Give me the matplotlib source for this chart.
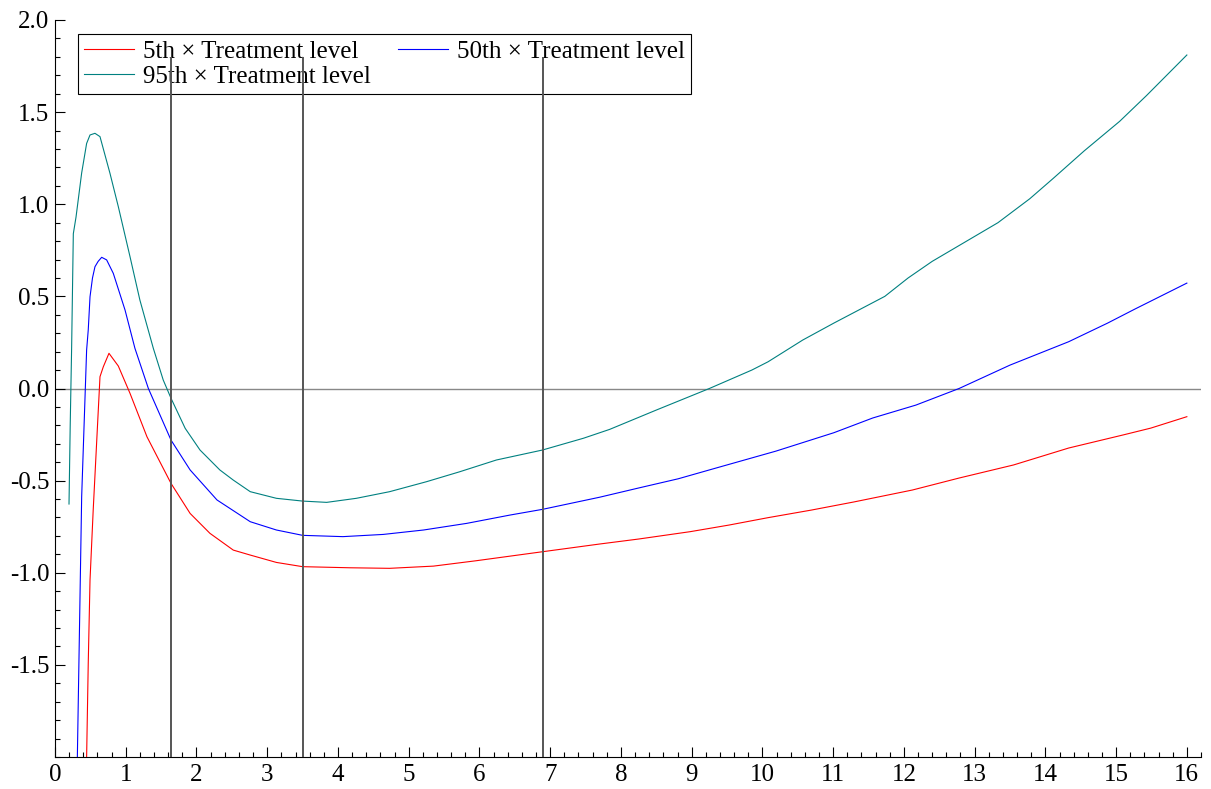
import matplotlib
matplotlib.use("Agg")
import matplotlib.pyplot as plt
from matplotlib.ticker import MultipleLocator

plt.rcParams['font.family'] = ['Liberation Serif', 'DejaVu Serif']
plt.rcParams['axes.unicode_minus'] = False

# 95th percentile curve
x95 = [0.198, 0.215, 0.235, 0.259, 0.297, 0.377, 0.447, 0.495, 0.565, 0.636, 0.777, 0.895,
       1.06, 1.20, 1.39, 1.53, 1.64, 1.84, 2.05, 2.33, 2.52, 2.76, 3.13, 3.50, 3.84, 4.26,
       4.73, 5.25, 5.72, 6.24, 6.89, 7.47, 7.84, 8.50, 9.25, 9.85, 10.08, 10.57, 11.01,
       11.73, 12.06, 12.40, 13.33, 13.78, 14.11, 14.55, 15.05, 15.43, 16.0]
y95 = [-0.627, -0.2, 0.22, 0.84, 0.93, 1.17, 1.33, 1.376, 1.385, 1.367, 1.168, 0.987,
       0.716, 0.48, 0.218, 0.046, -0.053, -0.216, -0.334, -0.442, -0.497, -0.56, -0.596,
       -0.611, -0.618, -0.596, -0.56, -0.506, -0.452, -0.388, -0.334, -0.27, -0.222,
       -0.117, 0.0, 0.10, 0.145, 0.263, 0.355, 0.50, 0.60, 0.69, 0.90, 1.03, 1.14, 1.29,
       1.45, 1.59, 1.81]

# 50th percentile curve
x50 = [0.316, 0.377, 0.447, 0.47, 0.495, 0.53, 0.565, 0.61, 0.66, 0.73, 0.824, 0.99, 1.13,
       1.32, 1.64, 1.91, 2.29, 2.76, 3.13, 3.50, 4.07, 4.64, 5.21, 5.82, 6.43, 6.89, 7.70,
       8.25, 8.81, 9.36, 10.19, 11.01, 11.56, 12.17, 12.78, 13.5, 14.33, 14.88, 15.26, 16.0]
y50 = [-2.0, -0.587, 0.209, 0.318, 0.498, 0.60, 0.661, 0.69, 0.712, 0.698, 0.625, 0.426,
       0.218, 0.0, -0.28, -0.442, -0.605, -0.723, -0.768, -0.797, -0.804, -0.792, -0.768,
       -0.732, -0.687, -0.656, -0.59, -0.54, -0.49, -0.43, -0.34, -0.24, -0.16, -0.09, 0.0,
       0.127, 0.254, 0.355, 0.43, 0.572]

# 5th percentile curve
x5 = [0.447, 0.47, 0.495, 0.54, 0.636, 0.683, 0.763, 0.895, 1.06, 1.30, 1.64, 1.91, 2.19,
      2.52, 2.76, 3.13, 3.50, 4.17, 4.73, 5.35, 5.95, 6.89, 7.70, 8.25, 8.98, 9.53, 10.08,
      10.69, 11.29, 12.12, 12.78, 13.55, 14.33, 15.1, 15.49, 16.0]
y5 = [-2.0, -1.49, -1.04, -0.66, 0.064, 0.118, 0.191, 0.122, -0.026, -0.262, -0.515,
      -0.678, -0.786, -0.877, -0.904, -0.944, -0.967, -0.973, -0.976, -0.964, -0.935,
      -0.886, -0.844, -0.817, -0.777, -0.741, -0.701, -0.66, -0.616, -0.551, -0.486,
      -0.415, -0.323, -0.252, -0.215, -0.153]

vlines_x = [1.64, 3.5, 6.9]
vline_top = 1.8

ytick_vals = [-1.5, -1.0, -0.5, 0.0, 0.5, 1.0, 1.5, 2.0]
xtick_vals = list(range(0, 17))

fig = plt.figure(figsize=(12.11, 7.89), dpi=100)
ax = fig.add_axes([55 / 1211, 1 - 757 / 789, 1146 / 1211, 737 / 789])

ax.axhline(0, color='#888888', lw=1.0, zorder=1)
# vertical markers are drawn on top of the legend, as in the original
ax.vlines(vlines_x, -2, vline_top, color='#555555', lw=1.4, zorder=6)

ax.plot(x5, y5, color='#ff0000', lw=0.8, label='5th × Treatment level')
ax.plot(x50, y50, color='#0000ff', lw=0.8, label='50th × Treatment level')
ax.plot(x95, y95, color='#008080', lw=0.8, label='95th × Treatment level')

ax.set_xlim(0, 16.2)
ax.set_ylim(-2, 2)

ax.set_xticks(xtick_vals)
ax.set_yticks(ytick_vals)
ax.set_yticklabels([f"{v:.1f}" for v in ytick_vals])
ax.xaxis.set_minor_locator(MultipleLocator(0.2))
ax.yaxis.set_minor_locator(MultipleLocator(0.1))
ax.tick_params(which='major', direction='in', length=7, width=0.8, labelsize=18)
ax.tick_params(which='minor', direction='in', length=3.6, width=0.8)
ax.tick_params(axis='y', pad=4)
ax.tick_params(axis='x', pad=5)

for s in ['top', 'right']:
    ax.spines[s].set_visible(False)
for s in ['left', 'bottom']:
    ax.spines[s].set_linewidth(0.8)

h, l = ax.get_legend_handles_labels()
order = [0, 2, 1]
leg = ax.legend([h[i] for i in order], [l[i] for i in order], ncol=2,
                loc='upper left', bbox_to_anchor=(0.02, 0.981), borderaxespad=0,
                fontsize=18, frameon=True, fancybox=False, edgecolor='black',
                framealpha=1, handlelength=2.0, handletextpad=0.35,
                columnspacing=1.1, labelspacing=0.1, borderpad=0.25)
leg.get_frame().set_linewidth(0.8)
leg.set_zorder(5)

fig.savefig('out.png', dpi=100)
